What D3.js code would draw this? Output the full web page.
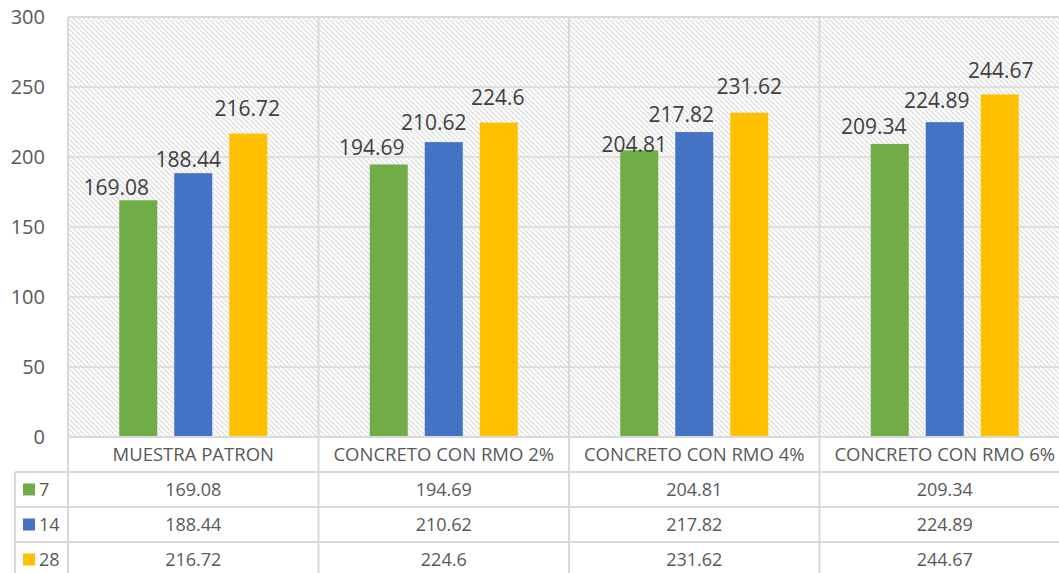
<!DOCTYPE html>
<html>
<head>
<meta charset="utf-8">
<script src="https://cdn.jsdelivr.net/npm/d3@7"></script>
<style>
  body { margin: 0; background: #fff; }
  svg { display: block; font-family: 'Open Sans', sans-serif; }
</style>
</head>
<body>
<div id="chart"></div>
<script>
// Data
let categories = ['MUESTRA PATRON', 'CONCRETO CON RMO 2%', 'CONCRETO CON RMO 4%', 'CONCRETO CON RMO 6%'];
let seriesNames = ['7', '14', '28'];
let values7 = [169.08, 194.69, 204.81, 209.34];
let values14 = [188.44, 210.62, 217.82, 224.89];
let values28 = [216.72, 224.6, 231.62, 244.67];
let valueLabels7 = ['169.08', '194.69', '204.81', '209.34'];
let valueLabels14 = ['188.44', '210.62', '217.82', '224.89'];
let valueLabels28 = ['216.72', '224.6', '231.62', '244.67'];
let yTicks = [0, 50, 100, 150, 200, 250, 300];

// Layout of the hand-placed data labels (px offsets from bar top centre)
let labelNudge = [
    [[-22, -13], [-17, -17], [-5, -6], [-16, -17]],
    [[-5, -14], [-10, -19], [-13, -17], [-8, -22]],
    [[-1, -25], [-1, -25], [0, -26], [1, -24]]
];

let colors = ['#70AD47', '#4472C4', '#FFC000'];
let series = [values7, values14, values28];
let seriesLabels = [valueLabels7, valueLabels14, valueLabels28];

let W = 1059, H = 573;
let plotLeft = 68, plotRight = 1070, plotTop = 17, plotBottom = 437;
let tableLeft = 15, rowH = 35;
let gridColor = '#d9d9d9';
let textColor = '#595959';

let svg = d3.select('#chart').append('svg')
    .attr('width', W)
    .attr('height', H);

// Hatch pattern for the plot area
let defs = svg.append('defs');
let pat = defs.append('pattern')
    .attr('id', 'hatch')
    .attr('patternUnits', 'userSpaceOnUse')
    .attr('width', 5)
    .attr('height', 5);
pat.append('rect').attr('width', 5).attr('height', 5).attr('fill', '#fff');
pat.append('path')
    .attr('d', 'M-1,-1 L6,6 M-1,4 L1,6 M4,-1 L6,1')
    .attr('stroke', '#cfcfcf')
    .attr('stroke-width', 1.3)
    .attr('stroke-dasharray', '1.5,0.6');

let x0 = d3.scaleBand().domain(categories).range([plotLeft, plotRight]);
let x1 = d3.scaleBand().domain(seriesNames)
    .range([x0.bandwidth() / 2 - 74, x0.bandwidth() / 2 + 74])
    .paddingInner(17 / 55)
    .paddingOuter(0);
let y = d3.scaleLinear().domain([0, 300]).range([plotBottom, plotTop]);

svg.append('rect')
    .attr('x', plotLeft)
    .attr('y', plotTop)
    .attr('width', plotRight - plotLeft)
    .attr('height', plotBottom - plotTop)
    .attr('fill', 'url(#hatch)');

// Gridlines
svg.append('g').selectAll('line')
    .data(yTicks.filter(function(d) { return d > 0; }))
    .enter().append('line')
    .attr('x1', plotLeft).attr('x2', plotRight)
    .attr('y1', function(d) { return y(d); })
    .attr('y2', function(d) { return y(d); })
    .attr('stroke', gridColor)
    .attr('stroke-width', 1.5);

// Y tick labels
svg.append('g').selectAll('text')
    .data(yTicks)
    .enter().append('text')
    .attr('x', 45)
    .attr('y', function(d) { return y(d); })
    .attr('dy', '0.35em')
    .attr('text-anchor', 'end')
    .attr('fill', textColor)
    .style('font-size', '20px')
    .text(function(d) { return d; });

// Bars
seriesNames.forEach(function(s, si) {
    let g = svg.append('g');
    g.selectAll('rect')
        .data(categories)
        .enter().append('rect')
        .attr('x', function(c) { return x0(c) + x1(s); })
        .attr('y', function(c, i) { return y(series[si][i]); })
        .attr('width', x1.bandwidth())
        .attr('height', function(c, i) { return y(0) - y(series[si][i]); })
        .attr('fill', colors[si]);

    g.selectAll('text')
        .data(categories)
        .enter().append('text')
        .attr('x', function(c, i) { return x0(c) + x1(s) + x1.bandwidth() / 2 + labelNudge[si][i][0]; })
        .attr('y', function(c, i) { return y(series[si][i]) + labelNudge[si][i][1]; })
        .attr('dy', '0.35em')
        .attr('text-anchor', 'middle')
        .attr('fill', '#404040')
        .style('font-size', '21px')
        .text(function(c, i) { return seriesLabels[si][i]; });
});

// Data table
let tableBottom = plotBottom + rowH * 4;
let lines = svg.append('g').attr('stroke', gridColor).attr('stroke-width', 2);

// horizontal lines
lines.append('line').attr('x1', plotLeft).attr('x2', plotRight)
    .attr('y1', plotBottom).attr('y2', plotBottom);
[1, 2, 3].forEach(function(r) {
    lines.append('line').attr('x1', tableLeft).attr('x2', plotRight)
        .attr('y1', plotBottom + r * rowH).attr('y2', plotBottom + r * rowH);
});
// vertical lines
lines.append('line').attr('x1', tableLeft).attr('x2', tableLeft)
    .attr('y1', plotBottom + rowH).attr('y2', tableBottom);
categories.forEach(function(c) {
    lines.append('line').attr('x1', x0(c)).attr('x2', x0(c))
        .attr('y1', plotTop).attr('y2', tableBottom);
});
lines.append('line').attr('x1', plotLeft).attr('x2', plotRight)
    .attr('y1', plotTop).attr('y2', plotTop).attr('stroke-width', 1.5);

// category header row
svg.append('g').selectAll('text')
    .data(categories)
    .enter().append('text')
    .attr('x', function(c) { return x0(c) + x0.bandwidth() / 2; })
    .attr('y', plotBottom + rowH / 2)
    .attr('dy', '0.35em')
    .attr('text-anchor', 'middle')
    .attr('fill', textColor)
    .style('font-size', '18.5px')
    .text(function(c) { return c; });

// series rows
seriesNames.forEach(function(s, si) {
    let rowY = plotBottom + (si + 1) * rowH + rowH / 2;
    svg.append('rect')
        .attr('x', 23).attr('y', rowY - 6)
        .attr('width', 12).attr('height', 12)
        .attr('fill', colors[si]);
    svg.append('text')
        .attr('x', 39).attr('y', rowY)
        .attr('dy', '0.35em')
        .attr('fill', textColor)
        .style('font-size', '18px')
        .text(s);
    svg.append('g').selectAll('text')
        .data(categories)
        .enter().append('text')
        .attr('x', function(c) { return x0(c) + x0.bandwidth() / 2; })
        .attr('y', rowY)
        .attr('dy', '0.35em')
        .attr('text-anchor', 'middle')
        .attr('fill', textColor)
        .style('font-size', '18px')
        .text(function(c, i) { return seriesLabels[si][i]; });
});
</script>
</body>
</html>
